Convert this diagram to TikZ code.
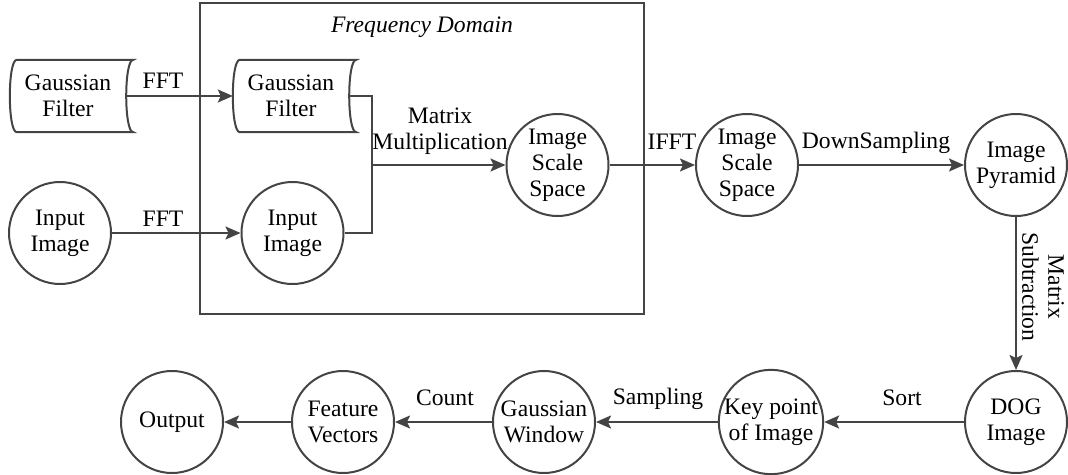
\documentclass[tikz,border=0pt]{standalone}
\usepackage{fontspec}
\setmainfont{Liberation Serif}
\newfontfamily\tnr{Liberation Serif}
\usetikzlibrary{arrows.meta}
\definecolor{lc}{RGB}{68,68,68}
\newcommand\dfont{\tnr\fontsize{23.6}{26}\selectfont}
\newcommand\tapeshape[1]{%
  \draw[ln] ([xshift=7pt]#1.north west) .. controls ([xshift=-2.3pt]#1.north west) and ([xshift=-2.3pt]#1.south west) .. ([xshift=7pt]#1.south west)
    -- ([xshift=7pt]#1.south east) .. controls ([xshift=-2.3pt]#1.south east) and ([xshift=-2.3pt]#1.north east) .. ([xshift=7pt]#1.north east) -- cycle;}
\tikzset{
  ln/.style={draw=lc, line width=2pt},
  circ/.style={circle, draw=lc, line width=2pt, minimum size=102pt, inner sep=0pt, align=center, font=\dfont},
  tapebox/.style={rectangle, minimum width=116pt, minimum height=72pt, inner sep=0pt, align=center, font=\dfont},
  lbl/.style={inner sep=0pt, align=center, font=\dfont},
  arr/.style={draw=lc, line width=2pt, -{Stealth[length=15pt,width=13pt,inset=3pt]}}
}
\begin{document}
\begin{tikzpicture}[x=1pt,y=-1pt]
\useasboundingbox (0,0) rectangle (1068,474);
% frame
\draw[ln] (200,3) rectangle (644,314);
\node[lbl, font=\dfont\itshape] (fdl) at (422,27) {Frequency Domain};
% nodes
\node[tapebox] (gf1) at (68,96) {Gaussian\\Filter};
\node[tapebox] (gf2) at (291,96) {Gaussian\\Filter};
\tapeshape{gf1}
\tapeshape{gf2}
\node[circ] (ii1) at (60,233) {Input\\Image};
\node[circ] (ii2) at (292.5,233) {Input\\Image};
\node[circ] (iss1) at (557.5,165) {Image\\Scale\\Space};
\node[circ] (iss2) at (747,165) {Image\\Scale\\Space};
\node[circ] (ip) at (1016,165) {Image\\Pyramid};
\node[circ] (dog) at (1016,422) {DOG\\Image};
\node[circ] (kp) at (771,422) {Key point\\of Image};
\node[circ] (gw) at (544,422) {Gaussian\\Window};
\node[circ] (fv) at (343,422) {Feature\\Vectors};
\node[circ] (out) at (172,422) {Output};
\coordinate (m) at (372,165);
% connectors
\draw[arr] (gf1.east) -- (gf2.west);
\draw[arr] (ii1.east) -- (ii2.west);
\draw[ln] (gf2.east) -| (m) |- (ii2.east);
\draw[arr] (m) -- (iss1.west);
\draw[arr] (iss1.east) -- (iss2.west);
\draw[arr] (iss2.east) -- (ip.west);
\draw[arr] (ip.south) -- (dog.north);
\draw[arr] (dog.west) -- (kp.east);
\draw[arr] (kp.west) -- (gw.east);
\draw[arr] (gw.west) -- (fv.east);
\draw[arr] (fv.west) -- (out.east);
% labels
\node[lbl] (l1) at (163,81) {FFT};
\node[lbl] (l2) at (163,219) {FFT};
\node[lbl] (l3) at (440,131) {Matrix\\Multiplication};
\node[lbl] (l4) at (672,142) {IFFT};
\node[lbl] (l5) at (876,143) {DownSampling};
\node[lbl, rotate=-90] (l6) at (1043,287) {Matrix\\Subtraction};
\node[lbl] (l7) at (902,398) {Sort};
\node[lbl] (l8) at (658,399) {Sampling};
\node[lbl] (l9) at (445,398) {Count};
\end{tikzpicture}
\end{document}
